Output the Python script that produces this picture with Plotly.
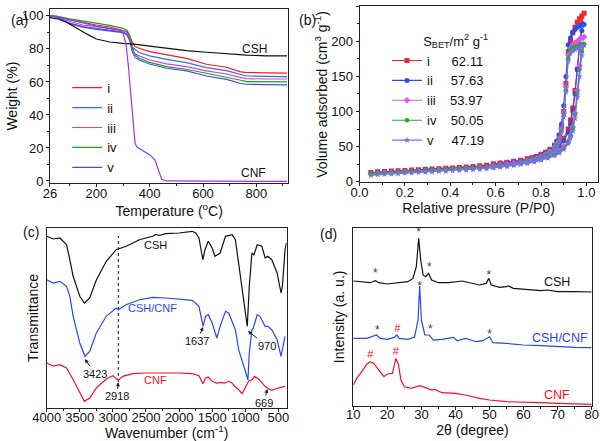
import plotly.graph_objects as go

# ---------------- (a) TGA ----------------
TGA_T_COMP = [26, 50, 100, 150, 200, 250, 300, 315, 325, 335, 345, 360, 400, 463, 538, 613, 688, 738, 763, 838, 915]
TGA_I = [100, 99.7, 97.6, 96, 94.5, 93.3, 91.5, 90.5, 88, 84, 81.5, 80.4, 78.4, 76.4, 74.3, 70.7, 68.9, 66.3, 65.7, 65.5, 65.3]
TGA_II = [100, 99.4, 95.6, 93.5, 92.5, 91.5, 90.3, 89, 86, 81, 79.5, 77.8, 75.8, 73.7, 71.7, 68.7, 66.9, 64.4, 63.6, 63.4, 63.2]
TGA_III = [100, 99.5, 96.6, 94.5, 93.5, 92.3, 91.2, 90, 86, 80, 77, 75.8, 73.3, 70.9, 69.3, 66.7, 64.8, 62.8, 62, 61.8, 61.8]
TGA_IV = [100, 99.9, 98.2, 97, 95.6, 94.3, 92.5, 91.3, 88, 81, 76.5, 74.3, 71.9, 69.3, 67.7, 65.3, 63.2, 61.2, 60.2, 60, 60]
TGA_V = [100, 99.3, 95.2, 93.2, 91.9, 91, 89.9, 88.5, 85, 78, 75, 73.3, 70.9, 68.3, 66.7, 63.6, 61.6, 59.2, 58.6, 58.4, 58.2]
TGA_T_CSH = [26, 60, 90, 110, 140, 170, 200, 250, 300, 350, 400, 463, 538, 613, 688, 763, 838, 915]
TGA_CSH = [99, 98, 96, 94, 91, 88.5, 86, 84.2, 83.4, 82.8, 81.7, 80.4, 79, 78, 77, 76.2, 75.8, 75.8]
TGA_T_CNF = [26, 50, 100, 150, 200, 250, 290, 300, 305, 311, 320, 330, 340, 345, 352, 375, 401, 420, 432, 445, 460, 600, 800, 915]
TGA_CNF = [100, 99.5, 97.8, 96, 93.8, 92.5, 91.2, 89.5, 87, 83, 70, 50, 32, 23, 20.5, 18.5, 15.8, 12.7, 7, 1, 0, -0.2, -0.3, -0.3]
TGA_NAMES = ["i", "ii", "iii", "iv", "v"]
TGA_COLORS = ["#f02020", "#3a6cf0", "#d23cf0", "#1aa31a", "#4b4bdc"]
TGA_TICKS = [26, 200, 400, 600, 800]

# ---------------- (b) N2 isotherms ----------------
P_ADS = [0.05, 0.08, 0.11, 0.14, 0.17, 0.20, 0.23, 0.26, 0.29, 0.32, 0.35, 0.38, 0.41, 0.44, 0.47, 0.50, 0.53, 0.56, 0.59,
         0.62, 0.65, 0.68, 0.71, 0.74, 0.77, 0.80, 0.83, 0.86, 0.88, 0.90, 0.92, 0.93, 0.94, 0.95, 0.96, 0.97, 0.98, 0.99]
P_DES = [0.98, 0.97, 0.96, 0.95, 0.94, 0.93, 0.92, 0.91, 0.90, 0.89, 0.88, 0.87, 0.86, 0.84, 0.82, 0.80, 0.78, 0.76, 0.74,
         0.71, 0.68, 0.65, 0.62, 0.59]
ADS_I = [13, 14, 14.5, 15, 15.5, 16, 16.5, 17, 17.5, 18, 18.5, 19, 19.5, 20, 21, 21.5, 22.5, 23.5, 24.5, 25.5, 27, 28.5, 30,
         32, 34.5, 38, 42, 48, 54, 62, 75, 88, 105, 130, 160, 195, 225, 240]
DES_I = [236, 232, 227, 220, 212, 200, 185, 140, 100, 78, 65, 57, 52, 46, 42, 39, 36, 34, 32.5, 30.5, 29, 27.5, 26.5, 25.5]
ADS_II = [12, 13, 13.5, 14, 14.5, 15, 15.5, 16, 16.5, 17, 17.5, 18, 18.5, 19, 19.5, 20.5, 21, 22, 23, 24, 25, 26.5, 28, 30,
          32, 35, 39, 44, 50, 58, 70, 82, 100, 125, 160, 195, 215, 224]
DES_II = [224, 222, 220, 217, 213, 205, 195, 150, 108, 82, 67, 58, 52, 45, 41, 37.5, 35, 33, 31.5, 29.5, 28, 26.5, 25.5, 24.5]
ADS_III = [11, 12, 12.5, 13, 13.5, 14, 14.5, 15, 15.5, 16, 16.5, 17, 17.5, 18, 18.5, 19, 20, 20.5, 21.5, 22.5, 23.5, 25,
           26.5, 28, 30, 32.5, 36, 40, 44, 50, 58, 66, 78, 98, 130, 165, 195, 206]
DES_III = [205, 203, 200, 198, 195, 190, 180, 135, 98, 75, 62, 54, 49, 43, 39, 36, 33.5, 31.5, 30, 28, 26.5, 25, 24, 23]
ADS_IV = [11, 11.5, 12, 12.5, 13, 13.5, 14, 14.5, 15, 15.5, 16, 16.5, 17, 17.5, 18, 18.5, 19, 19.5, 20.5, 21.5, 22.5, 24,
          25.5, 27, 29, 31.5, 34.5, 38, 42, 48, 56, 64, 76, 95, 125, 160, 185, 196]
DES_IV = [195, 194, 193, 192, 191, 188, 176, 130, 95, 72, 60, 52, 47, 41, 37.5, 34.5, 32, 30.5, 29, 27, 25.5, 24, 23, 22]
ADS_V = [9, 10, 10.5, 11, 11.5, 12, 12.5, 13, 13.5, 14, 14.5, 15, 15.5, 16, 16.5, 17, 17.5, 18.5, 19.5, 20.5, 21.5, 23,
         24.5, 26, 28, 30.5, 33.5, 37, 41, 46, 54, 62, 72, 90, 120, 150, 180, 194]
DES_V = [193, 191, 190, 188, 186, 183, 172, 128, 92, 70, 58, 50, 45, 39, 36, 33, 31, 29.5, 28, 26, 24.5, 23, 22, 21]
BET_NAMES = ["i", "ii", "iii", "iv", "v"]
BET_VALUES = ["62.11", "57.63", "53.97", "50.05", "47.19"]
BET_PAD = [6, 5, 4, 4, 5]
BET_COLORS = ["#f52525", "#2a4bf0", "#dd55ee", "#22b022", "#7a6cf0"]
BET_SYMBOLS = ["square", "circle", "diamond", "hexagon", "star"]

# ---------------- (c) FTIR ----------------
WN_CSH = [4000, 3900, 3800, 3700, 3650, 3600, 3500, 3430, 3350, 3250, 3100, 2950, 2800, 2600, 2400, 2350, 2300, 2200, 2000,
          1800, 1750, 1700, 1660, 1640, 1610, 1560, 1500, 1460, 1420, 1380, 1300, 1200, 1150, 1100, 1050, 1000, 970, 940,
          900, 870, 820, 750, 700, 660, 600, 520, 460, 440, 400, 380]
TR_CSH = [171.7, 169, 170, 163.3, 148, 131.7, 111.7, 105, 110, 128, 146.7, 158.3, 161.7, 168.3, 171.7, 173.5, 172.5, 174.3,
          175, 176.7, 175, 170, 155, 148.3, 158, 166.7, 160, 151.7, 153.3, 155, 171.7, 173.3, 168.3, 145, 121.7, 95, 81.7,
          121.7, 155, 153, 163.3, 161.7, 150, 151.7, 148.3, 135, 115, 121.7, 158, 165]
WN_MIX = [4000, 3900, 3800, 3700, 3650, 3600, 3500, 3423, 3350, 3250, 3100, 2950, 2918, 2850, 2800, 2600, 2400, 2200, 2000,
          1800, 1700, 1660, 1637, 1600, 1560, 1500, 1430, 1380, 1300, 1250, 1150, 1100, 1050, 1000, 960, 940, 900, 880,
          820, 780, 700, 660, 600, 520, 460, 440, 400]
TR_MIX = [128.3, 125, 126.7, 121.7, 111.7, 91.7, 65, 51.7, 56.7, 75, 91.7, 100, 98.3, 101, 103.3, 108.3, 110.7, 110, 109,
          107.7, 101.7, 88.3, 81.7, 91.7, 93.3, 85, 70, 81.7, 96.7, 95, 78.3, 58.3, 48.3, 38.3, 28.3, 55, 78.3, 80, 93.3,
          91.7, 81.7, 81.7, 78.3, 68.3, 51.7, 58.3, 71.7]
WN_CNF = [4000, 3900, 3800, 3700, 3600, 3500, 3430, 3350, 3250, 3100, 3000, 2918, 2850, 2700, 2500, 2000, 1800, 1700, 1640,
          1600, 1560, 1500, 1430, 1370, 1320, 1250, 1200, 1160, 1100, 1050, 1000, 950, 900, 860, 800, 750, 700, 669, 600,
          550, 500, 450, 400]
TR_CNF = [45, 42, 43.3, 40, 28.3, 15, 6.7, 10, 20, 29, 32.3, 27.7, 31.7, 34.3, 35, 35, 34.3, 32.3, 24.3, 30, 31, 26.7, 25,
          25.7, 25, 26.7, 25, 21.7, 18.3, 14.3, 20, 26.7, 28.3, 31.7, 29, 25, 21.7, 20, 17.7, 19, 20, 21, 21.7]
GUIDE_WN = 2918
GUIDE_SPAN = [26, 172]
WN_TICKS = [4000, 3500, 3000, 2500, 2000, 1500, 1000, 500]

# ---------------- (d) XRD ----------------
TT_CSH = [10, 13, 15, 16.5, 17.5, 20, 24, 26, 27.5, 28.5, 29.2, 29.8, 30.5, 31.3, 32.1, 33, 35, 38, 42, 44, 47, 49, 49.8,
          50.5, 53, 55, 55.5, 57, 60, 65, 67, 70, 75, 80]
I_CSH = [124.7, 124, 123, 125, 123, 121.7, 123, 124, 127.3, 139, 167.3, 145.7, 130.7, 129, 132.3, 125.7, 123, 123, 124.7,
         123, 120.7, 122.3, 127.3, 120.7, 118.3, 119, 119.7, 117.3, 116.3, 115, 115.7, 114, 114, 113.7]
TT_MIX = [10, 14, 16.8, 18, 20, 22, 22.8, 23.5, 26, 28, 29, 29.5, 30, 31, 32.3, 33.5, 36, 39.5, 40.5, 43, 46, 48, 50, 51,
          55, 60, 65, 70, 75, 80]
I_MIX = [67.3, 67.3, 70.7, 67.3, 66.3, 68.3, 70.7, 67.3, 66.3, 68.7, 85.7, 120, 85.7, 70.7, 70.7, 65.7, 66.3, 68.3, 65,
         67.3, 64, 65, 69, 63, 62.3, 60.7, 60, 59, 58.3, 58]
TT_CNF = [10, 11, 12.5, 14, 15, 16, 17.5, 19, 20, 21.5, 22.5, 23.2, 24, 25, 27, 29.5, 31, 33, 34, 36, 40, 43, 47, 50, 55,
          60, 65, 70, 75, 80]
I_CNF = [20.7, 27.3, 34, 41.7, 44, 42.3, 35.7, 29, 31.7, 32.3, 47.3, 42.3, 25.7, 19, 17.3, 20, 18.3, 15.7, 16.3, 13, 12.3,
         10.7, 7.3, 5.7, 4, 3.7, 3, 2.3, 2, 1.3]
STAR_TT = [16.5, 29.2, 32.3, 49.8, 17.1, 29.5, 32.6, 50.0]
STAR_I = [131.3, 172.3, 137.3, 129.7, 74.7, 119, 75.7, 70.7]
HASH_TT = [22.9, 15.0, 22.5]
HASH_I = [76.3, 50.7, 53]

BLACK = "#111111"
RED = "#f5102a"
BLUE = "#2847f0"
FONT = "Arial"

fig = go.Figure()

# (a)
for name, col, w in zip(TGA_NAMES, TGA_COLORS, [TGA_I, TGA_II, TGA_III, TGA_IV, TGA_V]):
    fig.add_trace(go.Scatter(x=TGA_T_COMP, y=w, mode="lines", name=name, line=dict(color=col, width=1.2),
                             xaxis="x", yaxis="y", legend="legend"))
fig.add_trace(go.Scatter(x=TGA_T_CSH, y=TGA_CSH, mode="lines", line=dict(color=BLACK, width=1.2),
                         showlegend=False, xaxis="x", yaxis="y"))
fig.add_trace(go.Scatter(x=TGA_T_CNF, y=TGA_CNF, mode="lines", line=dict(color="#8a3cf0", width=1.2),
                         showlegend=False, xaxis="x", yaxis="y"))

# (b)
for name, val, pad, col, sym, ads, des in zip(BET_NAMES, BET_VALUES, BET_PAD, BET_COLORS, BET_SYMBOLS,
                                              [ADS_I, ADS_II, ADS_III, ADS_IV, ADS_V],
                                              [DES_I, DES_II, DES_III, DES_IV, DES_V]):
    fig.add_trace(go.Scatter(x=P_ADS + P_DES, y=ads + des, mode="lines+markers",
                             name=name + "&nbsp;" * pad + val,
                             line=dict(color=col, width=1.1), marker=dict(symbol=sym, size=5, color=col),
                             xaxis="x2", yaxis="y2", legend="legend2"))

# (c)
fig.add_trace(go.Scatter(x=[GUIDE_WN, GUIDE_WN], y=GUIDE_SPAN, mode="lines", line=dict(color=BLACK, width=1, dash="dot"),
                         showlegend=False, xaxis="x3", yaxis="y3"))
for wn, tr, col in [(WN_CSH, TR_CSH, BLACK), (WN_MIX, TR_MIX, BLUE), (WN_CNF, TR_CNF, RED)]:
    fig.add_trace(go.Scatter(x=wn, y=tr, mode="lines", line=dict(color=col, width=1.2),
                             showlegend=False, xaxis="x3", yaxis="y3"))

# (d)
for tt, it, col in [(TT_CSH, I_CSH, BLACK), (TT_MIX, I_MIX, BLUE), (TT_CNF, I_CNF, RED)]:
    fig.add_trace(go.Scatter(x=tt, y=it, mode="lines", line=dict(color=col, width=1.2),
                             showlegend=False, xaxis="x4", yaxis="y4"))
fig.add_trace(go.Scatter(x=STAR_TT, y=STAR_I, mode="text", text=["*"] * len(STAR_TT),
                         textfont=dict(family=FONT, size=12, color="#444444"), showlegend=False,
                         xaxis="x4", yaxis="y4"))
fig.add_trace(go.Scatter(x=HASH_TT, y=HASH_I, mode="text", text=["#"] * len(HASH_TT),
                         textfont=dict(family=FONT, size=11, color=RED), showlegend=False,
                         xaxis="x4", yaxis="y4"))

AX = dict(showline=True, linecolor="#222222", linewidth=1, mirror=True, ticks="outside", ticklen=3,
          tickcolor="#222222", showgrid=False, zeroline=False, automargin=False,
          tickfont=dict(family=FONT, size=13, color="#111111"))
TITLE_FONT = dict(family=FONT, size=14, color="#111111")

fig.update_layout(
    width=600, height=441, autosize=False, margin=dict(l=0, r=0, t=0, b=0),
    paper_bgcolor="white", plot_bgcolor="white", font=dict(family=FONT, color="#111111"),
    xaxis=dict(AX, domain=[0.0833, 0.4805], range=[26, 920], tickmode="array", tickvals=TGA_TICKS, ticklabelstandoff=-5,
               minor=dict(ticks="outside", ticklen=2, tickvals=[100, 300, 500, 700, 900]),
               title=dict(text="Temperature (<sup>o</sup>C)", font=TITLE_FONT, standoff=6), anchor="y"),
    yaxis=dict(AX, domain=[0.5844, 0.9796], range=[-1.4, 104.2], dtick=20, minor=dict(ticks="outside", ticklen=2, dtick=10),
               title=dict(text="Weight (%)", font=TITLE_FONT, standoff=0), anchor="x"),
    xaxis2=dict(AX, domain=[0.5992, 0.9962], range=[0, 1.05], dtick=0.2, tickformat=".1f", ticklabelstandoff=-5,
                minor=dict(ticks="outside", ticklen=2, dtick=0.1),
                title=dict(text="Relative pressure (P/P0)", font=TITLE_FONT, standoff=2), anchor="y2"),
    yaxis2=dict(AX, domain=[0.5862, 0.9859], range=[-1.2, 250], dtick=50, minor=dict(ticks="outside", ticklen=2, dtick=25),
                title=dict(text="Volume adsorbed (cm<sup>3</sup> g<sup>-1</sup>)", font=TITLE_FONT, standoff=0),
                anchor="x2"),
    xaxis3=dict(AX, domain=[0.0778, 0.4778], range=[4000, 375], tickmode="array", tickvals=WN_TICKS, ticklabelstandoff=-6,
                minor=dict(ticks="outside", ticklen=2, dtick=250),
                title=dict(text="Wavenumber (cm<sup>-1</sup>)", font=TITLE_FONT, standoff=7), anchor="y3"),
    yaxis3=dict(AX, domain=[0.0748, 0.4830], range=[0, 180], ticks="", showticklabels=False,
                title=dict(text="Transmittance", font=TITLE_FONT, standoff=3), anchor="x3"),
    xaxis4=dict(AX, domain=[0.5888, 0.9862], range=[10, 80], dtick=10, ticklabelstandoff=-6,
                minor=dict(ticks="outside", ticklen=2, dtick=5),
                title=dict(text="2θ (degree)", font=TITLE_FONT, standoff=2), anchor="y4"),
    yaxis4=dict(AX, domain=[0.0800, 0.4830], range=[0, 177.7], ticks="", showticklabels=False,
                title=dict(text="Intensity (a. u.)", font=TITLE_FONT, standoff=4), anchor="x4"),
    legend=dict(x=0.112, y=0.835, xanchor="left", yanchor="top", bgcolor="rgba(0,0,0,0)",
                font=dict(family=FONT, size=13, color="#111111"), tracegroupgap=0),
    legend2=dict(x=0.645, y=0.935, xanchor="left", yanchor="top", bgcolor="rgba(0,0,0,0)",
                 font=dict(family=FONT, size=13, color="#111111"),
                 title=dict(text="S<sub>BET</sub>/m<sup>2</sup> g<sup>-1</sup>", side="top right",
                            font=dict(family=FONT, size=13, color="#111111"))),
)

ann = []
# panel letters
for txt, x, y in [("(a)", 9, 10), ("(b)", 307, 10), ("(c)", 21, 232), ("(d)", 328, 234)]:
    ann.append(dict(text=txt, x=x / 600, y=1 - y / 441, xref="paper", yref="paper", showarrow=False,
                    font=dict(family=FONT, size=14, color="#111111")))
# (a) labels
ann.append(dict(text="CSH", x=795, y=79.8, xref="x", yref="y", showarrow=False, font=dict(family=FONT, size=12, color=BLACK)))
ann.append(dict(text="CNF", x=788, y=4.7, xref="x", yref="y", showarrow=False, font=dict(family=FONT, size=12, color=BLACK)))
# (c) labels
ann.append(dict(text="CSH", x=2363, y=163.3, xref="x3", yref="y3", showarrow=False, font=dict(family=FONT, size=11, color=BLACK)))
ann.append(dict(text="CSH/CNF", x=2404, y=100, xref="x3", yref="y3", showarrow=False, font=dict(family=FONT, size=11, color=BLUE)))
ann.append(dict(text="CNF", x=2353, y=28.3, xref="x3", yref="y3", showarrow=False, font=dict(family=FONT, size=11, color=RED)))
ARROW = "#1c1c50"
for label, tx, ty, px, py in [("3423", 3270, 34.3, 3423, 49), ("2918", 2942, 11.7, 2918, 25.7),
                              ("1637", 1734, 66.7, 1637, 81), ("970", 676, 62.3, 960, 77),
                              ("669", 717, 5, 669, 19)]:
    ann.append(dict(text=label, x=px, y=py, xref="x3", yref="y3", ax=tx, ay=ty, axref="x3", ayref="y3",
                    showarrow=True, arrowhead=2, arrowsize=0.8, arrowwidth=1, arrowcolor=ARROW,
                    font=dict(family=FONT, size=11, color=BLACK)))
# (d) labels
ann.append(dict(text="CSH", x=69.9, y=124, xref="x4", yref="y4", showarrow=False, font=dict(family=FONT, size=12.5, color=BLACK)))
ann.append(dict(text="CSH/CNF", x=70.7, y=67.3, xref="x4", yref="y4", showarrow=False, font=dict(family=FONT, size=12.5, color=BLUE)))
ann.append(dict(text="CNF", x=69.9, y=10.7, xref="x4", yref="y4", showarrow=False, font=dict(family=FONT, size=12.5, color=RED)))
fig.update_layout(annotations=ann)

fig.write_html("out.html", config={"displayModeBar": False},
               post_script="document.body.style.margin='0';document.body.style.overflow='hidden';")
